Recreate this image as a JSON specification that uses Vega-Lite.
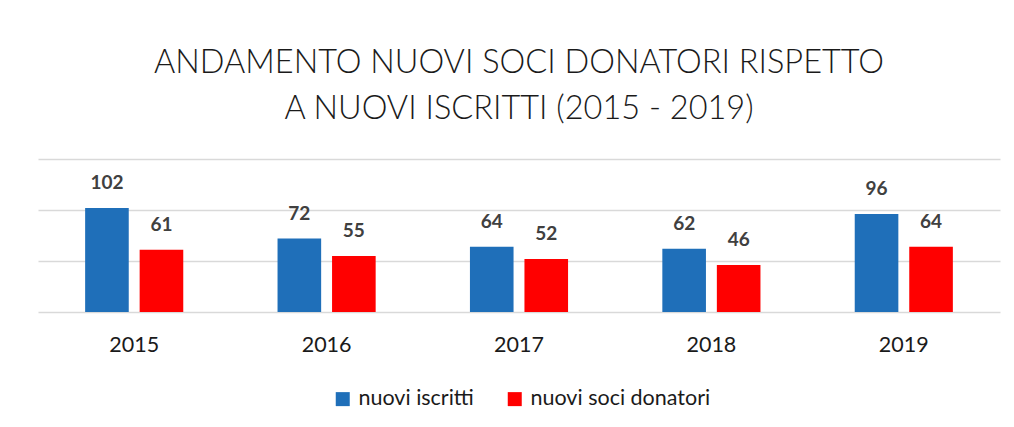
{
  "$schema": "https://vega.github.io/schema/vega-lite/v6.json",
  "autosize": "none",
  "width": 962,
  "height": 153,
  "padding": {"left": 38, "top": 159, "right": 14, "bottom": 115},
  "background": "white",
  "title": {
    "text": ["ANDAMENTO NUOVI SOCI DONATORI RISPETTO", "A NUOVI ISCRITTI (2015 - 2019)"],
    "font": "Lato",
    "fontSize": 32.5,
    "fontWeight": 300,
    "color": "#1a1a1a",
    "lineHeight": 46,
    "anchor": "middle",
    "offset": 34
  },
  "data": {
    "values": [
      {"anno": "2015", "serie": "nuovi iscritti", "valore": 102},
      {"anno": "2015", "serie": "nuovi soci donatori", "valore": 61},
      {"anno": "2016", "serie": "nuovi iscritti", "valore": 72},
      {"anno": "2016", "serie": "nuovi soci donatori", "valore": 55},
      {"anno": "2017", "serie": "nuovi iscritti", "valore": 64},
      {"anno": "2017", "serie": "nuovi soci donatori", "valore": 52},
      {"anno": "2018", "serie": "nuovi iscritti", "valore": 62},
      {"anno": "2018", "serie": "nuovi soci donatori", "valore": 46},
      {"anno": "2019", "serie": "nuovi iscritti", "valore": 96},
      {"anno": "2019", "serie": "nuovi soci donatori", "valore": 64}
    ]
  },
  "encoding": {
    "x": {
      "field": "anno",
      "type": "nominal",
      "scale": {"paddingInner": 0.49, "paddingOuter": 0.245},
      "axis": {
        "title": null,
        "labelAngle": 0,
        "domain": false,
        "ticks": false,
        "labelPadding": 22,
        "labelFont": "Lato",
        "labelFontSize": 21.5,
        "labelColor": "#1a1a1a"
      }
    },
    "xOffset": {
      "field": "serie",
      "type": "nominal",
      "scale": {"paddingInner": 0.2, "paddingOuter": 0}
    },
    "y": {
      "field": "valore",
      "type": "quantitative",
      "scale": {"domain": [0, 150]},
      "axis": {
        "title": null,
        "labels": false,
        "ticks": false,
        "domain": false,
        "values": [0, 50, 100, 150],
        "gridColor": "#d9d9d9",
        "gridWidth": 1.5
      }
    }
  },
  "layer": [
    {
      "mark": {"type": "bar", "stroke": null},
      "encoding": {
        "color": {
          "field": "serie",
          "type": "nominal",
          "scale": {"domain": ["nuovi iscritti", "nuovi soci donatori"], "range": ["#1f6fb9", "#ff0000"]},
          "legend": {
            "title": null,
            "orient": "none",
            "legendX": 294,
            "legendY": 229,
            "direction": "horizontal",
            "symbolType": "square",
            "symbolSize": 196,
            "symbolStrokeWidth": 0,
            "symbolOpacity": 1,
            "labelFont": "Lato",
            "labelFontSize": 21.5,
            "labelLimit": 0,
            "labelOffset": 5,
            "labelColor": "#1a1a1a",
            "columnPadding": 30
          }
        }
      }
    },
    {
      "mark": {
        "type": "text",
        "baseline": "alphabetic",
        "dy": -19,
        "font": "Lato",
        "fontSize": 19,
        "fontWeight": "bold",
        "color": "#404040"
      },
      "encoding": {
        "text": {"field": "valore", "type": "quantitative"}
      }
    }
  ],
  "config": {
    "view": {"stroke": null}
  }
}
